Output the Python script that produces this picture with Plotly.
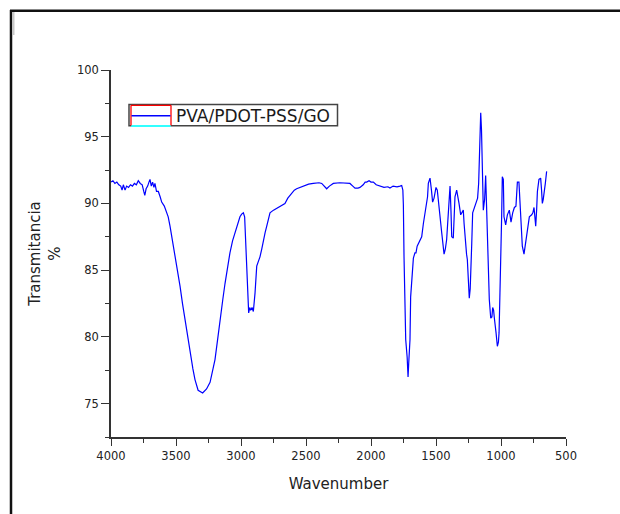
import plotly.graph_objects as go

# ---- data (wavenumber, % transmittance) ----
wavenumber = [
    4000, 3985, 3970, 3955, 3940, 3925, 3915, 3905, 3892, 3880, 3865, 3850, 3835, 3820, 3805,
    3790, 3775, 3760, 3748, 3740, 3730, 3718, 3708, 3700, 3690, 3680, 3670, 3662, 3650, 3636,
    3622, 3610, 3590, 3572, 3560, 3546, 3530, 3508, 3490, 3469, 3450, 3431, 3410, 3392, 3370,
    3354, 3330, 3295, 3265, 3238, 3220, 3200, 3180, 3162, 3140, 3123, 3105, 3085, 3065, 3046,
    3025, 3008, 2995, 2982, 2972, 2964, 2956, 2951, 2945, 2941, 2933, 2926, 2915, 2905, 2892,
    2879, 2865, 2854, 2840, 2828, 2815, 2802, 2790, 2777, 2750, 2725, 2700, 2662, 2640, 2610,
    2590, 2572, 2545, 2521, 2480, 2444, 2400, 2379, 2360, 2341, 2320, 2290, 2240, 2200, 2162,
    2140, 2123, 2100, 2085, 2060, 2045, 2033, 2015, 2000, 1982, 1960, 1931, 1900, 1870, 1854,
    1830, 1800, 1777, 1764, 1755, 1751, 1746, 1738, 1733, 1722, 1715, 1710, 1700, 1695, 1687,
    1680, 1674, 1662, 1654, 1645, 1636, 1620, 1610, 1597, 1585, 1577, 1565, 1559, 1546, 1535,
    1526, 1515, 1500, 1490, 1478, 1469, 1456, 1438, 1428, 1418, 1405, 1398, 1392, 1385, 1379,
    1367, 1360, 1354, 1341, 1330, 1323, 1310, 1300, 1290, 1284, 1277, 1265, 1259, 1250, 1244,
    1237, 1231, 1225, 1218, 1200, 1180, 1172, 1169, 1162, 1156, 1150, 1146, 1136, 1130, 1126,
    1118, 1110, 1097, 1090, 1079, 1070, 1064, 1057, 1051, 1045, 1038, 1028, 1020, 1015, 1008,
    1000, 995, 990, 982, 977, 970, 964, 957, 951, 936, 930, 923, 910, 897, 885,
    879, 874, 862, 855, 849, 840, 836, 823, 815, 810, 797, 782, 764, 755, 746,
    740, 733, 726, 720, 708, 700, 695, 688, 682, 675, 669, 659, 649,
]
transmittance = [
    91.6, 91.7, 91.5, 91.6, 91.4, 91.3, 91.0, 91.4, 91.0, 91.3, 91.2, 91.4, 91.3, 91.5, 91.4,
    91.7, 91.5, 91.4, 90.9, 90.6, 91.1, 91.3, 91.6, 91.8, 91.3, 91.6, 91.2, 91.5, 90.9, 90.9,
    90.5, 90.1, 89.8, 89.4, 89.0, 88.3, 87.4, 86.3, 85.0, 83.8, 82.5, 81.3, 80.0, 78.8, 77.6,
    76.8, 76.0, 75.8, 76.1, 76.6, 77.3, 78.3, 79.8, 81.3, 82.8, 84.0, 85.2, 86.3, 87.2, 87.8,
    88.5, 89.0, 89.2, 89.3, 89.0, 87.3, 85.5, 84.8, 82.5, 81.8, 82.2, 82.0, 82.2, 81.9, 83.3,
    85.3, 85.7, 86.0, 86.6, 87.3, 87.8, 88.3, 88.8, 89.3, 89.5, 89.65, 89.8, 90.0, 90.4, 90.8,
    91.0, 91.1, 91.2, 91.3, 91.45, 91.5, 91.55, 91.5, 91.3, 91.1, 91.3, 91.5, 91.55, 91.5, 91.5,
    91.3, 91.15, 91.15, 91.2, 91.4, 91.6, 91.6, 91.7, 91.6, 91.6, 91.4, 91.3, 91.2, 91.25, 91.15,
    91.3, 91.25, 91.3, 91.35, 91.0, 89.9, 86.0, 82.0, 79.8, 78.5, 77.0, 78.0, 79.8, 83.0, 84.0,
    85.3, 85.9, 86.3, 86.3, 86.8, 87.0, 87.3, 87.5, 88.5, 89.3, 89.8, 90.5, 91.5, 91.9, 91.0,
    90.1, 90.4, 91.2, 91.0, 90.0, 89.3, 87.8, 86.2, 86.6, 87.3, 89.8, 91.0, 91.3, 89.5, 87.5,
    87.4, 89.0, 90.5, 91.0, 90.5, 90.0, 89.15, 89.3, 89.5, 88.5, 87.5, 86.2, 85.8, 84.0, 82.9,
    83.6, 84.8, 87.0, 89.3, 89.9, 90.4, 91.5, 92.8, 95.0, 96.8, 95.5, 92.8, 89.5, 90.0, 90.3,
    92.1, 89.5, 86.3, 82.8, 81.4, 81.5, 82.2, 82.0, 81.4, 81.0, 80.3, 79.3, 79.6, 80.3, 82.8,
    86.3, 89.0, 92.0, 91.8, 89.0, 88.5, 88.4, 88.8, 89.15, 89.5, 89.1, 88.6, 89.3, 89.7, 89.8,
    90.5, 91.6, 91.6, 90.5, 89.0, 87.5, 86.8, 86.2, 86.7, 87.3, 88.15, 89.0, 89.15, 89.3, 89.7,
    89.2, 88.3, 89.5, 90.9, 91.8, 91.9, 91.9, 91.0, 90.0, 90.3, 91.0, 91.5, 92.4,
]
series_name = "PVA/PDOT-PSS/GO"
x_ticks = [4000, 3500, 3000, 2500, 2000, 1500, 1000, 500]
y_ticks = [75, 80, 85, 90, 95, 100]

# ---- layout geometry (pixels) ----
W, H = 620, 514
L, R, T, B = 111, 566, 70, 437
FONT = "DejaVu Sans, Liberation Sans, Arial, sans-serif"
AX = "#333333"


def px(x):
    return (x - L) / (R - L)


def py(y):
    return (B - y) / (B - T)


fig = go.Figure()
fig.add_trace(go.Scatter(
    x=wavenumber, y=transmittance, mode="lines", name=series_name,
    line=dict(color="#0000ff", width=1.2), showlegend=False,
))

shapes = [
    # outer frame (top and left edges of the image)
    dict(type="line", xref="paper", yref="paper", x0=px(10), x1=px(621), y0=py(10.7), y1=py(10.7),
         line=dict(color="#111111", width=2.5)),
    dict(type="line", xref="paper", yref="paper", x0=px(11), x1=px(11), y0=py(10), y1=py(515),
         line=dict(color="#111111", width=2.5)),
    dict(type="rect", xref="paper", yref="paper", x0=px(12.5), x1=px(14.5), y0=py(12), y1=py(35),
         line=dict(width=0), fillcolor="#c8c8c8"),
    # legend box
    dict(type="rect", xref="paper", yref="paper", x0=px(129), x1=px(337.5), y0=py(104.5), y1=py(125.8),
         line=dict(color="#444444", width=1.5), fillcolor="white"),
    dict(type="line", xref="paper", yref="paper", x0=px(131), x1=px(171), y0=py(126), y1=py(126),
         line=dict(color="#33ffff", width=2)),
    dict(type="line", xref="paper", yref="paper", x0=px(131), x1=px(131), y0=py(125.5), y1=py(105.3),
         line=dict(color="#ff0000", width=1.3)),
    dict(type="line", xref="paper", yref="paper", x0=px(131), x1=px(171), y0=py(105.3), y1=py(105.3),
         line=dict(color="#ff0000", width=1.3)),
    dict(type="line", xref="paper", yref="paper", x0=px(171), x1=px(171), y0=py(105.3), y1=py(125.5),
         line=dict(color="#ff0000", width=1.3)),
    dict(type="line", xref="paper", yref="paper", x0=px(131.5), x1=px(170.5), y0=py(115.7), y1=py(115.7),
         line=dict(color="#0000ff", width=1.5)),
]

fig.update_layout(
    width=W, height=H,
    margin=dict(l=L, r=W - R, t=T, b=H - B, pad=0),
    paper_bgcolor="white", plot_bgcolor="white",
    font=dict(family=FONT, color="#222222"),
    shapes=shapes,
    annotations=[dict(
        xref="paper", yref="paper", x=px(174), y=py(115.5), xanchor="left", yanchor="middle",
        text=series_name, showarrow=False, font=dict(family=FONT, size=17, color="#1a1a1a"),
    )],
)

fig.update_xaxes(
    range=[4000, 500], tickmode="array", tickvals=x_ticks,
    showgrid=False, zeroline=False, showline=True, linecolor=AX, linewidth=1.5,
    ticks="outside", ticklen=7, tickwidth=1.3, tickcolor=AX,
    tickfont=dict(family=FONT, size=11.5, color="#222222"),
    minor=dict(ticks="outside", dtick=250, tick0=500, ticklen=4, tickwidth=1.2, tickcolor=AX, showgrid=False),
    title=dict(text="Wavenumber", font=dict(family=FONT, size=15, color="#222222"), standoff=17),
)
fig.update_yaxes(
    range=[72.5, 100], tickmode="array", tickvals=y_ticks,
    showgrid=False, zeroline=False, showline=True, linecolor=AX, linewidth=1.5,
    ticks="outside", ticklen=8, tickwidth=1.3, tickcolor=AX,
    tickfont=dict(family=FONT, size=11.5, color="#222222"),
    minor=dict(ticks="outside", dtick=2.5, tick0=0, ticklen=4, tickwidth=1.2, tickcolor=AX, showgrid=False),
    title=dict(text="Transmitancia<br>%", font=dict(family=FONT, size=15, color="#222222"), standoff=13),
)

fig.write_html("out.html")
